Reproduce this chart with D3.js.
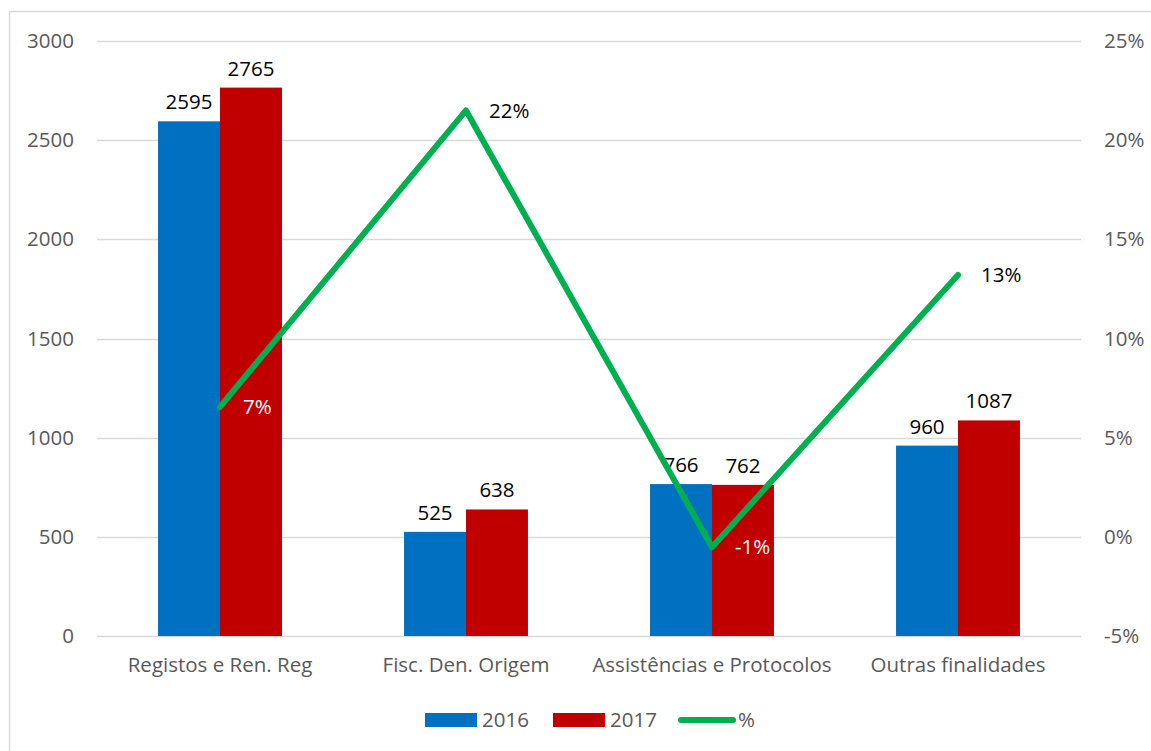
<!DOCTYPE html>
<html>
<head>
<meta charset="utf-8">
<script src="https://cdn.jsdelivr.net/npm/d3@7"></script>
<style>
  html, body { margin: 0; padding: 0; background: #fff; }
  svg { display: block; font-family: "Open Sans", sans-serif; }
</style>
</head>
<body>
<svg id="chart" width="1151" height="751"></svg>
<script>
const categories = ["Registos e Ren. Reg", "Fisc. Den. Origem", "Assistências e Protocolos", "Outras finalidades"];
const series2016 = [2595, 525, 766, 960];
const series2017 = [2765, 638, 762, 1087];
const pctValues = [6.55, 21.5, -0.52, 13.2];
const pctLabels = ["7%", "22%", "-1%", "13%"];
const leftTicks = [0, 500, 1000, 1500, 2000, 2500, 3000];
const rightTicks = [-5, 0, 5, 10, 15, 20, 25];
const seriesNames = ["2016", "2017", "%"];

const colors = { s2016: "#0070C0", s2017: "#C00000", pct: "#00B050", grid: "#D9D9D9", axisText: "#595959" };
const FS = "20.5px";

const svg = d3.select("#chart");
const W = 1151, H = 751;
const plot = { left: 97, right: 1081, top: 41, bottom: 636 };

svg.append("rect").attr("x", 9.5).attr("y", 11.5).attr("width", W + 20).attr("height", H + 20)
  .attr("fill", "none").attr("stroke", colors.grid).attr("stroke-width", 1.5);

const x = d3.scaleBand().domain(categories).range([plot.left, plot.right]).paddingInner(0).paddingOuter(0);
const yL = d3.scaleLinear().domain([0, 3000]).range([plot.bottom, plot.top]);
const yR = d3.scaleLinear().domain([-5, 25]).range([plot.bottom, plot.top]);

svg.append("g").selectAll("line").data(leftTicks).join("line")
  .attr("x1", plot.left).attr("x2", plot.right)
  .attr("y1", d => Math.round(yL(d)) + 0.5).attr("y2", d => Math.round(yL(d)) + 0.5)
  .attr("stroke", colors.grid).attr("stroke-width", 1.3);

const axL = svg.append("g").attr("transform", `translate(${plot.left},0)`)
  .call(d3.axisLeft(yL).tickValues(leftTicks).tickSize(0).tickPadding(23).tickFormat(d3.format("d")));
axL.select(".domain").remove();
axL.selectAll("text").attr("fill", colors.axisText).style("font-size", FS).style("font-family", "Open Sans");

const axR = svg.append("g").attr("transform", `translate(${plot.right},0)`)
  .call(d3.axisRight(yR).tickValues(rightTicks).tickSize(0).tickPadding(23).tickFormat(d => d + "%"));
axR.select(".domain").remove();
axR.selectAll("text").attr("fill", colors.axisText).style("font-size", FS).style("font-family", "Open Sans");

const axB = svg.append("g").attr("transform", `translate(0,${plot.bottom})`)
  .call(d3.axisBottom(x).tickSize(0).tickPadding(21));
axB.select(".domain").remove();
axB.selectAll("text").attr("fill", colors.axisText).style("font-size", FS).style("font-family", "Open Sans");

const inner = d3.scaleBand().domain(["2016", "2017"]).range([0, x.bandwidth()]).paddingOuter(0.985).paddingInner(0);
const barData = [];
categories.forEach((c, i) => {
  barData.push({ cat: c, key: "2016", v: series2016[i], color: colors.s2016 });
  barData.push({ cat: c, key: "2017", v: series2017[i], color: colors.s2017 });
});
const bars = svg.append("g");
bars.selectAll("rect").data(barData).join("rect")
  .attr("x", d => x(d.cat) + inner(d.key))
  .attr("width", inner.bandwidth())
  .attr("y", d => yL(d.v))
  .attr("height", d => yL(0) - yL(d.v))
  .attr("fill", d => d.color);

bars.selectAll("text").data(barData).join("text")
  .attr("x", d => x(d.cat) + inner(d.key) + inner.bandwidth() / 2)
  .attr("y", d => yL(d.v) - 12)
  .attr("text-anchor", "middle")
  .attr("fill", "#000").style("font-size", FS)
  .text(d => d.v);

const pts = categories.map((c, i) => ({ x: x(c) + x.bandwidth() / 2, y: yR(pctValues[i]), label: pctLabels[i] }));
svg.append("path").datum(pts)
  .attr("d", d3.line().x(d => d.x).y(d => d.y))
  .attr("fill", "none").attr("stroke", colors.pct).attr("stroke-width", 6)
  .attr("stroke-linejoin", "round").attr("stroke-linecap", "round");

const labelColors = ["#fff", "#000", "#fff", "#000"];
svg.append("g").selectAll("text").data(pts).join("text")
  .attr("x", d => d.x + 23)
  .attr("y", d => d.y)
  .attr("dy", "0.35em")
  .attr("fill", (d, i) => labelColors[i]).style("font-size", FS)
  .text(d => d.label);

const lg = svg.append("g").attr("transform", "translate(0,720)");
lg.append("rect").attr("x", 425).attr("y", -7).attr("width", 52).attr("height", 14).attr("fill", colors.s2016);
lg.append("text").attr("x", 482).attr("y", 0).attr("dy", "0.35em").attr("fill", colors.axisText).style("font-size", FS).text(seriesNames[0]);
lg.append("rect").attr("x", 553).attr("y", -7).attr("width", 52).attr("height", 14).attr("fill", colors.s2017);
lg.append("text").attr("x", 610).attr("y", 0).attr("dy", "0.35em").attr("fill", colors.axisText).style("font-size", FS).text(seriesNames[1]);
lg.append("line").attr("x1", 681).attr("x2", 733).attr("y1", 0).attr("y2", 0)
  .attr("stroke", colors.pct).attr("stroke-width", 6).attr("stroke-linecap", "round");
lg.append("text").attr("x", 738).attr("y", 0).attr("dy", "0.35em").attr("fill", colors.axisText).style("font-size", FS).text(seriesNames[2]);
</script>
</body>
</html>
